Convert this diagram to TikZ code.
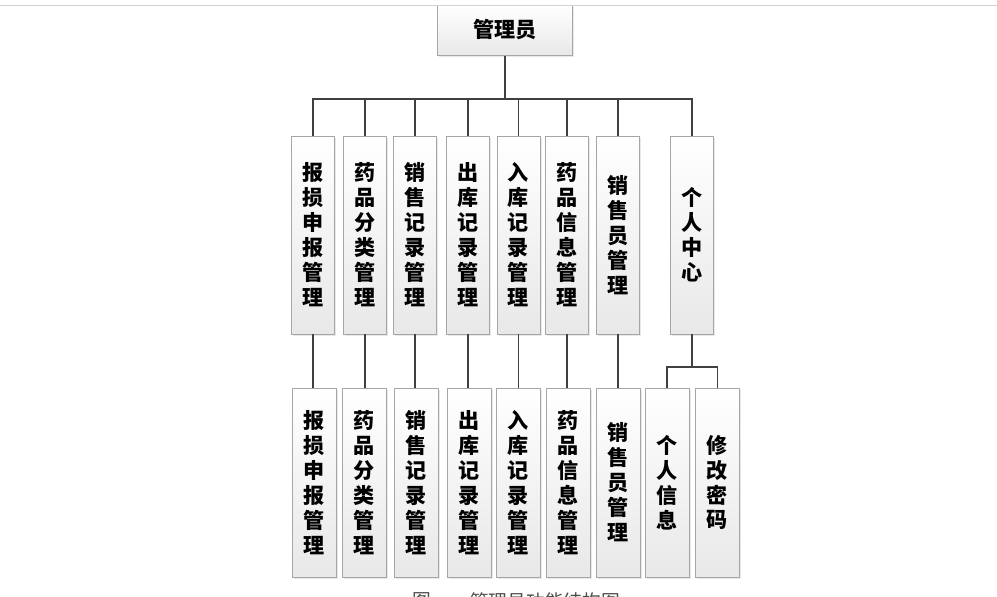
\documentclass[tikz,border=0pt]{standalone}
\usepackage{fontspec}
\newfontfamily\hei{Noto Sans CJK SC}
\usepackage{tikz}
\usetikzlibrary{shapes,shadows}

\begin{document}
\begin{tikzpicture}[x=0.03cm,y=-0.03cm]
\useasboundingbox (0,0) rectangle (997,597);
\clip (0,0) rectangle (997,597);

\tikzstyle{box}=[rectangle, draw=gray!70, top color=white, bottom color=gray!18,
    inner sep=0pt, align=center, font=\hei\bfseries\fontsize{18}{21.3}\selectfont,
    drop shadow={opacity=0.18, shadow xshift=0.5mm, shadow yshift=-0.5mm}]
\tikzstyle{modbox}=[box, minimum width=1.29cm, minimum height=5.94cm]
\tikzstyle{subbox}=[box, minimum width=1.32cm, minimum height=5.67cm]
\tikzstyle{link}=[draw=black!75, line width=1.2pt]
\tikzstyle{caption}=[font=\hei\fontsize{16}{16}\selectfont, text=black!70]

\node[box, minimum width=4.05cm, minimum height=1.5cm] (admin) at (505,30.5) {\raisebox{3pt}{管理员}};

\node[modbox] (m1) at (313,235) {报\\损\\申\\报\\管\\理};
\node[modbox] (m2) at (365,235) {药\\品\\分\\类\\管\\理};
\node[modbox] (m3) at (415,235) {销\\售\\记\\录\\管\\理};
\node[modbox] (m4) at (468,235) {出\\库\\记\\录\\管\\理};
\node[modbox] (m5) at (518.5,235) {入\\库\\记\\录\\管\\理};
\node[modbox] (m6) at (567,235) {药\\品\\信\\息\\管\\理};
\node[modbox] (m7) at (618,235) {销\\售\\员\\管\\理};
\node[modbox] (m8) at (692,235) {个\\人\\中\\心};

\node[subbox] (s1) at (314,482.5) {报\\损\\申\\报\\管\\理};
\node[subbox] (s2) at (364.5,482.5) {药\\品\\分\\类\\管\\理};
\node[subbox] (s3) at (416.5,482.5) {销\\售\\记\\录\\管\\理};
\node[subbox] (s4) at (469,482.5) {出\\库\\记\\录\\管\\理};
\node[subbox] (s5) at (518.5,482.5) {入\\库\\记\\录\\管\\理};
\node[subbox] (s6) at (568.5,482.5) {药\\品\\信\\息\\管\\理};
\node[subbox] (s7) at (618.5,482.5) {销\\售\\员\\管\\理};
\node[subbox] (s8) at (667,482.5) {个\\人\\信\\息};
\node[subbox] (s9) at (717.5,482.5) {修\\改\\密\\码};

\coordinate (bus) at (505,99);
\coordinate (fork) at (692,367);

\draw[link] (admin.south) -- (bus);
\foreach \i in {1,...,8}
    \draw[link] (bus) -| (m\i.north);
\foreach \i in {1,...,7}
    \draw[link] (m\i.south) -- (m\i.south |- s\i.north);
\draw[link] (m8.south) -- (fork);
\draw[link] (s8.north) |- (fork) -| (s9.north);

\draw[gray!35, line width=1pt] (0,5.5) -- (997,5.5);

\node[caption] (fignum) at (422,601) {图};
\node[caption] (figtitle) at (545,601) {管理员功能结构图};
\end{tikzpicture}
\end{document}
